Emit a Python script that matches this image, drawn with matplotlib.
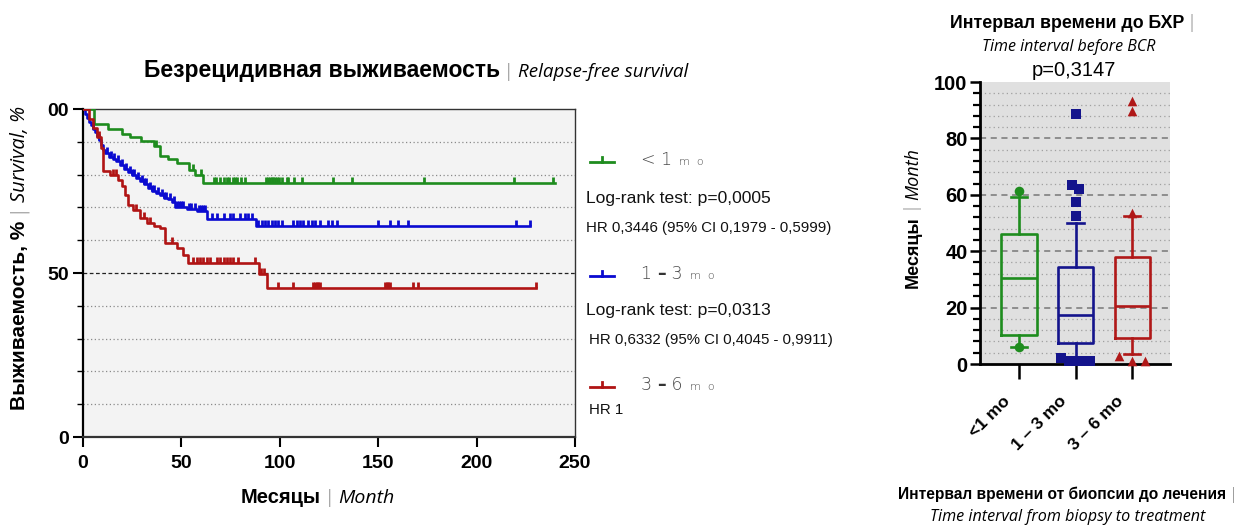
import numpy as np
import matplotlib
matplotlib.use('Agg')
import matplotlib.pyplot as plt
from matplotlib.lines import Line2D
from matplotlib.transforms import IdentityTransform, ScaledTranslation

# Kaplan-Meier: event times (months) and survival (%) after each step
green_t = [0, 5.8, 12.9, 20, 24, 29.5, 36, 39, 43, 48, 54, 57, 61]
green_s = [100, 95.3, 93.8, 92.4, 91.5, 90.1, 88.7, 85.8, 84.9, 83.4, 81.4, 80, 77.3]
green_end = 240
green_cens = [1, 3.5, 37, 56, 60, 66.6, 67.6, 69.5, 71.5, 73.4, 74.4, 76.3, 77.3, 78.3,
              80.3, 82.2, 93, 94.2, 95, 95.8, 96.7, 97.6, 98.4, 99.7, 100.9, 103.5,
              104.3, 107.2, 111.4, 126.9, 136.7, 173.1, 218.8, 239]

blue_t = [0, 1, 2, 3, 4, 5, 6, 7, 8, 9, 10, 11, 13, 15, 17, 19, 21, 23, 25, 27, 29,
          31, 33, 35, 37, 39, 41, 43, 45, 47, 53, 58, 63, 88]
blue_s = [100, 98.5, 97.2, 96, 95, 94, 93, 91.8, 90.5, 89, 87.5, 86.5, 85.5, 84.8, 84,
          83, 81.8, 80.9, 80, 79, 78, 77, 76, 75, 74.5, 73.8, 73, 72.5, 71.5, 70.2,
          69.5, 69, 66.5, 64.3]
blue_end = 227
blue_cens = [5, 8, 12, 14, 16, 18, 20, 22, 24, 25, 26, 28, 30, 31, 32, 34, 35, 36, 38,
             40, 41, 42, 44, 46, 48, 49, 50, 51, 54, 55, 57, 59, 60, 61, 62, 65.4, 68,
             71.4, 74.7, 76.4, 79.8, 82.4, 84, 85.8, 89, 90.8, 92.5, 94.2, 95.9, 97.6,
             99.3, 101, 106.9, 108.6, 110.3, 112, 114.5, 116.2, 117.9, 120.4, 124.6,
             126.4, 128.9, 150, 156, 160.2, 165.2, 219.8, 227]

red_t = [0, 3, 5, 7, 9, 10.3, 13.7, 18, 19.7, 21.4, 23, 25.6, 29, 32.4, 36, 39, 41.7,
         47.6, 51, 53.6, 89.5, 93.4]
red_s = [100, 97, 94.1, 91.5, 88, 81, 79.9, 78.5, 76.5, 73.8, 70.7, 69.2, 66.7, 65.1,
         64.2, 63.6, 59, 57.5, 55.5, 52.9, 49.6, 45.4]
red_end = 230
red_cens = [8, 15, 17, 27, 31, 34, 45, 56.1, 57.8, 59.5, 61.2, 62.9, 64.6, 68, 69.7,
            71.4, 73, 74.7, 76.4, 79, 87.5, 90.3, 92, 98.9, 106.9, 117, 117.9, 118.7,
            119.5, 120.4, 153.5, 154.3, 155.2, 156, 167.8, 170.4, 230]

km_groups = [('<', '1'), ('1', '3'), ('3', '6')]
km_stats = [['Log-rank test: p=0,0005', 'HR 0,3446 (95% CI 0,1979 - 0,5999)'],
            ['Log-rank test: p=0,0313', 'HR 0,6332 (95% CI 0,4045 - 0,9911)'],
            ['HR 1']]

# box plot: time to BCR
box_labels = ['<1 mo', '1 \u2013 3 mo', '3 \u2013 6 mo']
box_med = [30.5, 17.5, 20.5]
box_q1 = [10.2, 7.3, 9.1]
box_q3 = [46, 34.5, 37.8]
box_lo = [5.9, 1.5, 3.5]
box_hi = [59.3, 50.1, 52.5]
box_fliers = [[61.2, 5.9],
              [88.6, 63.3, 61.9, 57.5, 52.5, 2.0, 1.2, 1.2, 1.2, 0.9],
              [93.2, 89.6, 53.5, 2.8, 1.2, 1.2]]
flier_jitter = [[0, 0],
                [0, -0.07, 0.065, 0, 0, -0.26, -0.11, -0.01, 0.11, 0.25],
                [0, 0, 0, -0.23, 0, 0.22]]

colors_km = ['#1e8c1e', '#0a0ad0', '#b01414']
colors_box = ['#1e8c1e', '#14148c', '#b01818']
markers = ['o', 's', '^']

W, H = 1241, 525
fig = plt.figure(figsize=(W / 100, H / 100), dpi=100)
fig.patch.set_facecolor('white')

BOLD = dict(family='Liberation Sans', weight='bold')
ITAL = dict(family='Open Sans', style='italic')
BAR = dict(family='DejaVu Sans', color='#777777', weight='light')
LEG = dict(family='DejaVu Sans', weight='light', color='#4a4a4a')


def rich(x, y, parts, vertical=False, center=True):
    # several text pieces put one after the other, centred on (x, y) in pixels
    r = fig.canvas.get_renderer()
    arts = [fig.text(0, 0, s, transform=IdentityTransform(), rotation=90 if vertical else 0,
                     rotation_mode='anchor', ha='left', va='baseline', **kw)
            for s, kw in parts]
    sizes = []
    for t in arts:
        bb = t.get_window_extent(r)
        sizes.append(bb.height if vertical else bb.width)
    pos = -sum(sizes) / 2 if center else 0
    for t, w in zip(arts, sizes):
        if vertical:
            t.set_position((x, H - y + pos))
        else:
            t.set_position((x + pos, H - y))
        pos += w


# ---------------- Kaplan-Meier ----------------
ax = fig.add_axes([83 / W, 1 - 437 / H, (575 - 83) / W, (437 - 109) / H])
ax.set_facecolor('#f3f3f3')
ax.set_xlim(0, 250)
ax.set_ylim(0, 100)

for v in range(10, 100, 10):
    if v == 50:
        ax.axhline(v, color='#222222', lw=0.9, ls=(0, (3, 2)), zorder=1)
    else:
        ax.axhline(v, color='#8a8a8a', lw=0.9, ls=(0, (1, 2)), zorder=1)

series = [(green_t, green_s, green_end, green_cens),
          (blue_t, blue_s, blue_end, blue_cens),
          (red_t, red_s, red_end, red_cens)]
for (t, s, end, cens), c in zip(series, colors_km):
    tt = list(t) + [end]
    ss = list(s) + [s[-1]]
    ax.step(tt, ss, where='post', color=c, lw=1.9, zorder=3)
    idx = np.searchsorted(t, cens, side='right') - 1
    ax.plot(cens, np.array(s)[idx], ls='none', marker=2, ms=4.5, mew=2.0, color=c, zorder=3)

ax.set_xticks([0, 50, 100, 150, 200, 250])
ax.set_yticks([0, 50, 100])
ax.set_yticklabels(['0', '50', '00'])
ax.set_yticks(range(0, 101, 10), minor=True)
ax.tick_params(axis='both', which='major', labelsize=14, length=7, width=1.5, pad=3)
ax.tick_params(axis='x', which='major', pad=6)
ax.tick_params(axis='y', which='minor', length=4, width=1.0)
for lab in ax.get_xticklabels() + ax.get_yticklabels():
    lab.set_fontweight('bold')
    lab.set_family('Liberation Sans')
for sp in ['left', 'bottom']:
    ax.spines[sp].set_linewidth(1.6)
ax.spines['bottom'].set_color('#333333')
for sp in ['top', 'right']:
    ax.spines[sp].set_linewidth(1.0)
    ax.spines[sp].set_color('#333333')

rich(416, 77, [('Безрецидивная выживаемость', dict(BOLD, size=16.5)),
               (' | ', dict(BAR, size=13)),
               ('Relapse-free survival', dict(ITAL, size=13.5))])
rich(318, 503, [('Месяцы', dict(BOLD, size=14.5)),
                (' | ', dict(BAR, size=13)),
                ('Month', dict(ITAL, size=14))])
rich(25, 258, [('Выживаемость, %', dict(BOLD, size=15)),
               (' | ', dict(BAR, size=13.5)),
               ('Survival, %', dict(ITAL, size=14.5))], vertical=True)

# legend with statistics
leg_y = [162, 276, 387]
for i, ((a, b), c) in enumerate(zip(km_groups, colors_km)):
    y = H - leg_y[i]
    fig.add_artist(Line2D([590, 614], [y, y], color=c, lw=2.0, transform=IdentityTransform()))
    fig.add_artist(Line2D([602, 602], [y, y + 5.5], color=c, lw=2.0, transform=IdentityTransform()))
    if i == 0:
        parts = [(a + ' ' + b, dict(LEG, size=12.5)), ('  m  o', dict(LEG, size=8))]
    else:
        parts = [(a + ' ', dict(LEG, size=12.5)),
                 ('\u2013', dict(family='DejaVu Sans', weight='bold', size=12.5, color='#333333')),
                 (' ' + b, dict(LEG, size=12.5)), ('  m  o', dict(LEG, size=8))]
    rich(641, leg_y[i] + 3, parts, center=False)
stat_pos = [[(586, 198, 12.6), (586, 228, 10.8)],
            [(586, 311, 12.6), (589, 340, 10.8)],
            [(589, 410, 10.8)]]
for lines, pos in zip(km_stats, stat_pos):
    for txt, (x, y, fs) in zip(lines, pos):
        fig.text(x, H - y, txt, transform=IdentityTransform(), family='Liberation Sans',
                 size=fs, va='center', ha='left', color='#111111')

# ---------------- box plot ----------------
bx = fig.add_axes([980 / W, 1 - 364 / H, (1170 - 980) / W, (364 - 82) / H])
bx.set_facecolor('#e0e0e0')
bx.set_xlim(-0.69, 2.67)
bx.set_ylim(0, 100)
for v in range(4, 100, 4):
    if v % 20 == 0:
        bx.axhline(v, color='#777777', lw=1.1, ls=(0, (4, 3)), zorder=1)
    else:
        bx.axhline(v, color='#a0a0a0', lw=0.9, ls=(0, (1, 2.5)), zorder=1)

for i in range(3):
    st = dict(med=box_med[i], q1=box_q1[i], q3=box_q3[i], whislo=box_lo[i],
              whishi=box_hi[i], fliers=[])
    c = colors_box[i]
    lp = dict(color=c, linewidth=1.9)
    bx.bxp([st], positions=[i], widths=0.62, capwidths=0.29, showfliers=False,
           boxprops=lp, medianprops=lp, whiskerprops=lp, capprops=lp,
           manage_ticks=False, zorder=3)
    xs = i + np.array(flier_jitter[i])
    bx.scatter(xs, box_fliers[i], marker=markers[i], s=48, color=c, zorder=4,
               clip_on=False, linewidths=0)

bx.set_xticks([0, 1, 2])
bx.set_xticklabels(box_labels)
bx.set_yticks(range(0, 101, 20))
bx.set_yticks(range(0, 101, 4), minor=True)
bx.tick_params(axis='y', which='major', labelsize=14.5, length=7, width=1.8, pad=2)
bx.tick_params(axis='y', which='minor', length=5, width=1.6)
bx.tick_params(axis='x', which='major', length=11, width=1.8, pad=14, labelsize=12.5)
for lab in bx.get_yticklabels():
    lab.set_fontweight('bold')
    lab.set_family('Liberation Sans')
for lab in bx.get_xticklabels():
    lab.set_fontweight('bold')
    lab.set_family('Liberation Sans')
    lab.set_rotation(45)
    lab.set_ha('right')
    lab.set_va('center')
    lab.set_rotation_mode('anchor')
    lab.set_transform(lab.get_transform() + ScaledTranslation(-8 / 72, 0, fig.dpi_scale_trans))
for sp in ['top', 'right']:
    bx.spines[sp].set_visible(False)
for sp in ['left', 'bottom']:
    bx.spines[sp].set_linewidth(2.0)

fig.text(1074, H - 70, 'p=0,3147', transform=IdentityTransform(), family='Liberation Sans',
         size=14.5, ha='center', va='center')
rich(1072, 28, [('Интервал времени до БХР', dict(BOLD, size=12.8)),
                (' |', dict(BAR, size=12))])
rich(1069, 51, [('Time interval before BCR', dict(ITAL, size=11.5))])
rich(1067, 499, [('Интервал времени от биопсии до лечения', dict(BOLD, size=11.2)),
                 (' |', dict(BAR, size=11))])
rich(1068, 521, [('Time interval from biopsy to treatment', dict(ITAL, size=11.6))])
rich(918, 218, [('Месяцы', dict(BOLD, size=13)),
                (' | ', dict(BAR, size=12)),
                ('Month', dict(ITAL, size=13))], vertical=True)

fig.savefig('out.png', dpi=100)
